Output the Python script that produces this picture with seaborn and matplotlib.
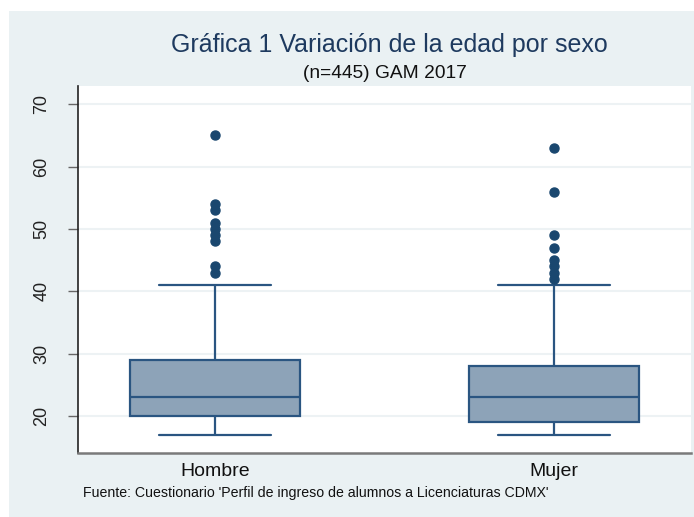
import pandas as pd
import matplotlib.pyplot as plt
import seaborn as sns
from matplotlib.patches import Rectangle

# Waarden
groepen = ['Hombre', 'Mujer']
q1 = [20, 19]
mediaan = [23, 23]
q3 = [29, 28]
snor_laag = [17, 17]
snor_hoog = [41, 41]
uitschieters_hombre = [65, 54, 53, 51, 50, 49, 48, 44, 43]
uitschieters_mujer = [63, 56, 49, 47, 45, 44, 43, 42]
blok = 20  # herhalingen per kwartiel zodat de box exact klopt

uitschieters = [uitschieters_hombre, uitschieters_mujer]
rijen = []
for i, g in enumerate(groepen):
    waarden = ([snor_laag[i]] + [q1[i]] * blok + [mediaan[i]] * blok
               + [q3[i]] * blok + [snor_hoog[i]] + uitschieters[i])
    rijen += [(g, v) for v in waarden]
df = pd.DataFrame(rijen, columns=['sexo', 'edad'])

sns.set_theme(style='white')
plt.rcParams['font.family'] = ['Liberation Sans', 'DejaVu Sans']

fig = plt.figure(figsize=(6.94, 5.17), dpi=100)
fig.patch.set_facecolor('white')
achtergrond = Rectangle((9 / 694, 0), 1, 1 - 11 / 517, transform=fig.transFigure,
                        facecolor='#EAF1F3', edgecolor='none', zorder=-10)
fig.add_artist(achtergrond)

ax = fig.add_axes([78 / 694, 64 / 517, 613 / 694, 367 / 517])
ax.set_facecolor('white')

navy = '#1A476F'
sns.boxplot(data=df, x='sexo', y='edad', order=groepen, ax=ax, width=0.5,
            color='#8DA3B8', saturation=1, linecolor='#2A5581', linewidth=1.6,
            capwidths=0.333,
            flierprops=dict(marker='o', markerfacecolor=navy, markeredgecolor=navy,
                            markersize=6.5))

ax.set_xlim(-0.404, 1.404)
ax.set_ylim(14.06, 72.94)
ax.set_yticks([20, 30, 40, 50, 60, 70])
ax.yaxis.grid(True, color='#EDF2F4', linewidth=1.5)
ax.set_axisbelow(True)
ax.set_xlabel('')
ax.set_ylabel('')

for side in ['top', 'right']:
    ax.spines[side].set_visible(False)
ax.spines['left'].set_color('#222222')
ax.spines['left'].set_linewidth(1.2)
ax.spines['bottom'].set_color('#7a7a7a')
ax.spines['bottom'].set_linewidth(1.8)

ax.tick_params(axis='y', left=True, length=7, width=1, color='#666666',
               pad=13, labelsize=13, labelcolor='#222222')
for lbl in ax.get_yticklabels():
    lbl.set_rotation(90)
    lbl.set_va('center')
ax.tick_params(axis='x', bottom=False, length=0, pad=7, labelsize=14, labelcolor='#111111')

fig.text(389 / 694, 1 - 45 / 517, 'Gráfica 1 Variación de la edad por sexo',
         ha='center', va='center', fontsize=18, color='#1E3A5F')
fig.text(385 / 694, 1 - 74 / 517, '(n=445) GAM 2017',
         ha='center', va='center', fontsize=13.8, color='#111111')
fig.text(83 / 694, 1 - 493 / 517,
         "Fuente: Cuestionario 'Perfil de ingreso de alumnos a Licenciaturas CDMX'",
         ha='left', va='center', fontsize=10.2, color='#111111')

fig.savefig('out.png', dpi=100)
